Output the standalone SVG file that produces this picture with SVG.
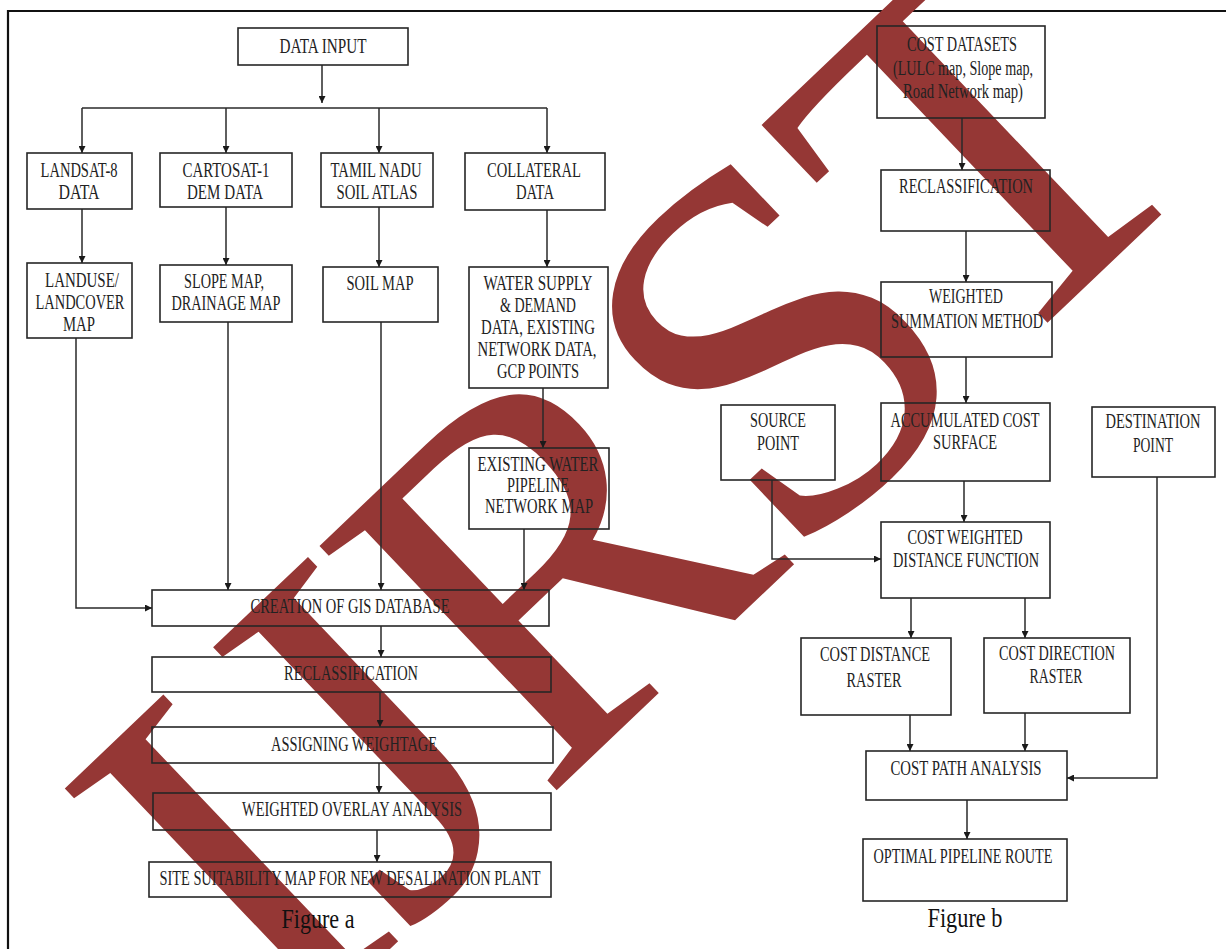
<svg xmlns="http://www.w3.org/2000/svg" width="1226" height="949" viewBox="0 0 1226 949">
<defs>
<style>
.bx{fill:none;stroke:#262626;stroke-width:1.6}
.t{font-family:"Liberation Serif","Times New Roman",serif;font-size:20px;fill:#222;text-anchor:middle}
.cap{font-family:"Liberation Serif","Times New Roman",serif;font-size:28px;fill:#111;text-anchor:middle}
.ln{fill:none;stroke:#2a2a2a;stroke-width:1.5}
.wm{font-family:"Liberation Serif","Times New Roman",serif;font-size:520px;letter-spacing:-10px;fill:#953735}
</style>
<marker id="ah" viewBox="0 0 10 10" refX="10" refY="5" markerWidth="7" markerHeight="7" markerUnits="userSpaceOnUse" orient="auto">
<path d="M0,0 L10,5 L0,10 z" fill="#1a1a1a"/>
</marker>
</defs>
<rect x="0" y="0" width="1226" height="949" fill="#ffffff"/>
<path d="M8,949 V11 H1226" fill="none" stroke="#111" stroke-width="2.2"/>

<g id="watermark">
<text class="wm" transform="translate(286,1048) rotate(-43.6)">IJRST</text>
</g>

<g id="connectors">
<path class="ln" d="M322,65 V103" marker-end="url(#ah)"/>
<path class="ln" d="M82,108 H547"/>
<path class="ln" d="M82,108 V153" marker-end="url(#ah)"/>
<path class="ln" d="M226,108 V153" marker-end="url(#ah)"/>
<path class="ln" d="M379,108 V153" marker-end="url(#ah)"/>
<path class="ln" d="M547,108 V153" marker-end="url(#ah)"/>
<path class="ln" d="M82,209 V263" marker-end="url(#ah)"/>
<path class="ln" d="M226,207 V265" marker-end="url(#ah)"/>
<path class="ln" d="M379,207 V267" marker-end="url(#ah)"/>
<path class="ln" d="M547,210 V267" marker-end="url(#ah)"/>
<path class="ln" d="M76,338 V608 H152" marker-end="url(#ah)"/>
<path class="ln" d="M228,322 V590" marker-end="url(#ah)"/>
<path class="ln" d="M381,322 V590" marker-end="url(#ah)"/>
<path class="ln" d="M543,388 V448" marker-end="url(#ah)"/>
<path class="ln" d="M524,529 V590" marker-end="url(#ah)"/>
<path class="ln" d="M381,626 V657" marker-end="url(#ah)"/>
<path class="ln" d="M380,692 V727" marker-end="url(#ah)"/>
<path class="ln" d="M379,763 V793" marker-end="url(#ah)"/>
<path class="ln" d="M377,830 V862" marker-end="url(#ah)"/>

<path class="ln" d="M962,118 V170" marker-end="url(#ah)"/>
<path class="ln" d="M966,231 V282" marker-end="url(#ah)"/>
<path class="ln" d="M966,357 V403" marker-end="url(#ah)"/>
<path class="ln" d="M964,481 V522" marker-end="url(#ah)"/>
<path class="ln" d="M772,480 V559 H881" marker-end="url(#ah)"/>
<path class="ln" d="M911,598 V638" marker-end="url(#ah)"/>
<path class="ln" d="M1025,598 V638" marker-end="url(#ah)"/>
<path class="ln" d="M910,715 V751" marker-end="url(#ah)"/>
<path class="ln" d="M1025,713 V751" marker-end="url(#ah)"/>
<path class="ln" d="M1157,477 V778 H1067" marker-end="url(#ah)"/>
<path class="ln" d="M967,800 V839" marker-end="url(#ah)"/>
</g>

<g id="n-data-input">
<rect class="bx" x="238" y="28" width="170" height="37"/>
<text class="t" x="323" y="53" textLength="87" lengthAdjust="spacingAndGlyphs">DATA INPUT</text>
</g>
<g id="n-landsat">
<rect class="bx" x="27" y="153" width="105" height="56"/>
<text class="t" x="79" y="177" textLength="77" lengthAdjust="spacingAndGlyphs">LANDSAT-8</text>
<text class="t" x="79" y="199" textLength="41" lengthAdjust="spacingAndGlyphs">DATA</text>
</g>
<g id="n-cartosat">
<rect class="bx" x="160" y="153" width="132" height="54"/>
<text class="t" x="226" y="177" textLength="87" lengthAdjust="spacingAndGlyphs">CARTOSAT-1</text>
<text class="t" x="225" y="199" textLength="76" lengthAdjust="spacingAndGlyphs">DEM DATA</text>
</g>
<g id="n-tamil">
<rect class="bx" x="321" y="153" width="112" height="54"/>
<text class="t" x="376" y="177" textLength="91" lengthAdjust="spacingAndGlyphs">TAMIL NADU</text>
<text class="t" x="377" y="199" textLength="81" lengthAdjust="spacingAndGlyphs">SOIL ATLAS</text>
</g>
<g id="n-collateral">
<rect class="bx" x="465" y="153" width="140" height="57"/>
<text class="t" x="534" y="177" textLength="94" lengthAdjust="spacingAndGlyphs">COLLATERAL</text>
<text class="t" x="535" y="199" textLength="38" lengthAdjust="spacingAndGlyphs">DATA</text>
</g>
<g id="n-landuse">
<rect class="bx" x="27" y="263" width="105" height="75"/>
<text class="t" x="82" y="287" textLength="74" lengthAdjust="spacingAndGlyphs">LANDUSE/</text>
<text class="t" x="80" y="309" textLength="89" lengthAdjust="spacingAndGlyphs">LANDCOVER</text>
<text class="t" x="79" y="331" textLength="32" lengthAdjust="spacingAndGlyphs">MAP</text>
</g>
<g id="n-slope">
<rect class="bx" x="160" y="265" width="132" height="57"/>
<text class="t" x="224" y="288" textLength="80" lengthAdjust="spacingAndGlyphs">SLOPE MAP,</text>
<text class="t" x="226" y="310" textLength="109" lengthAdjust="spacingAndGlyphs">DRAINAGE MAP</text>
</g>
<g id="n-soil">
<rect class="bx" x="323" y="267" width="115" height="55"/>
<text class="t" x="380" y="290" textLength="67" lengthAdjust="spacingAndGlyphs">SOIL MAP</text>
</g>
<g id="n-water">
<rect class="bx" x="469" y="267" width="139" height="121"/>
<text class="t" x="538" y="290" textLength="109" lengthAdjust="spacingAndGlyphs">WATER SUPPLY</text>
<text class="t" x="538" y="312" textLength="76" lengthAdjust="spacingAndGlyphs">&amp; DEMAND</text>
<text class="t" x="538" y="334" textLength="114" lengthAdjust="spacingAndGlyphs">DATA, EXISTING</text>
<text class="t" x="537" y="356" textLength="119" lengthAdjust="spacingAndGlyphs">NETWORK DATA,</text>
<text class="t" x="538" y="378" textLength="82" lengthAdjust="spacingAndGlyphs">GCP POINTS</text>
</g>
<g id="n-existing">
<rect class="bx" x="469" y="448" width="140" height="81"/>
<text class="t" x="538" y="471" textLength="121" lengthAdjust="spacingAndGlyphs">EXISTING WATER</text>
<text class="t" x="538" y="492" textLength="62" lengthAdjust="spacingAndGlyphs">PIPELINE</text>
<text class="t" x="539" y="513" textLength="108" lengthAdjust="spacingAndGlyphs">NETWORK MAP</text>
</g>
<g id="n-creation">
<rect class="bx" x="152" y="590" width="397" height="36"/>
<text class="t" x="350" y="613" textLength="199" lengthAdjust="spacingAndGlyphs">CREATION OF GIS DATABASE</text>
</g>
<g id="n-reclass-a">
<rect class="bx" x="152" y="657" width="399" height="35"/>
<text class="t" x="351" y="680" textLength="134" lengthAdjust="spacingAndGlyphs">RECLASSIFICATION</text>
</g>
<g id="n-assign">
<rect class="bx" x="152" y="727" width="401" height="36"/>
<text class="t" x="354" y="751" textLength="166" lengthAdjust="spacingAndGlyphs">ASSIGNING WEIGHTAGE</text>
</g>
<g id="n-overlay">
<rect class="bx" x="153" y="793" width="398" height="37"/>
<text class="t" x="352" y="816" textLength="220" lengthAdjust="spacingAndGlyphs">WEIGHTED OVERLAY ANALYSIS</text>
</g>
<g id="n-site">
<rect class="bx" x="149" y="862" width="402" height="35"/>
<text class="t" x="350" y="885" textLength="381" lengthAdjust="spacingAndGlyphs">SITE SUITABILITY MAP FOR NEW DESALINATION PLANT</text>
</g>
<text class="cap" x="318" y="928" textLength="73" lengthAdjust="spacingAndGlyphs">Figure a</text>

<g id="n-cost-datasets">
<rect class="bx" x="877" y="26" width="168" height="92"/>
<text class="t" x="962" y="51" textLength="110" lengthAdjust="spacingAndGlyphs">COST DATASETS</text>
<text class="t" x="963" y="75" textLength="140" lengthAdjust="spacingAndGlyphs">(LULC map, Slope map,</text>
<text class="t" x="963" y="98" textLength="120" lengthAdjust="spacingAndGlyphs">Road Network map)</text>
</g>
<g id="n-reclass-b">
<rect class="bx" x="881" y="170" width="169" height="61"/>
<text class="t" x="966" y="193" textLength="134" lengthAdjust="spacingAndGlyphs">RECLASSIFICATION</text>
</g>
<g id="n-weighted-sum">
<rect class="bx" x="881" y="282" width="171" height="75"/>
<text class="t" x="966" y="303" textLength="74" lengthAdjust="spacingAndGlyphs">WEIGHTED</text>
<text class="t" x="967" y="328" textLength="152" lengthAdjust="spacingAndGlyphs">SUMMATION METHOD</text>
</g>
<g id="n-source">
<rect class="bx" x="721" y="405" width="114" height="75"/>
<text class="t" x="778" y="427" textLength="56" lengthAdjust="spacingAndGlyphs">SOURCE</text>
<text class="t" x="778" y="450" textLength="42" lengthAdjust="spacingAndGlyphs">POINT</text>
</g>
<g id="n-accum">
<rect class="bx" x="881" y="403" width="169" height="78"/>
<text class="t" x="965" y="427" textLength="149" lengthAdjust="spacingAndGlyphs">ACCUMULATED COST</text>
<text class="t" x="965" y="449" textLength="64" lengthAdjust="spacingAndGlyphs">SURFACE</text>
</g>
<g id="n-destination">
<rect class="bx" x="1092" y="407" width="123" height="70"/>
<text class="t" x="1153" y="428" textLength="95" lengthAdjust="spacingAndGlyphs">DESTINATION</text>
<text class="t" x="1153" y="452" textLength="40" lengthAdjust="spacingAndGlyphs">POINT</text>
</g>
<g id="n-cwdf">
<rect class="bx" x="881" y="522" width="169" height="76"/>
<text class="t" x="965" y="544" textLength="115" lengthAdjust="spacingAndGlyphs">COST WEIGHTED</text>
<text class="t" x="966" y="567" textLength="146" lengthAdjust="spacingAndGlyphs">DISTANCE FUNCTION</text>
</g>
<g id="n-cost-distance">
<rect class="bx" x="801" y="638" width="150" height="77"/>
<text class="t" x="875" y="661" textLength="110" lengthAdjust="spacingAndGlyphs">COST DISTANCE</text>
<text class="t" x="874" y="687" textLength="55" lengthAdjust="spacingAndGlyphs">RASTER</text>
</g>
<g id="n-cost-direction">
<rect class="bx" x="984" y="638" width="146" height="75"/>
<text class="t" x="1057" y="660" textLength="116" lengthAdjust="spacingAndGlyphs">COST DIRECTION</text>
<text class="t" x="1056" y="683" textLength="53" lengthAdjust="spacingAndGlyphs">RASTER</text>
</g>
<g id="n-cost-path">
<rect class="bx" x="866" y="751" width="201" height="49"/>
<text class="t" x="966" y="775" textLength="151" lengthAdjust="spacingAndGlyphs">COST PATH ANALYSIS</text>
</g>
<g id="n-optimal">
<rect class="bx" x="863" y="839" width="204" height="62"/>
<text class="t" x="963" y="863" textLength="179" lengthAdjust="spacingAndGlyphs">OPTIMAL PIPELINE ROUTE</text>
</g>
<text class="cap" x="965" y="927" textLength="75" lengthAdjust="spacingAndGlyphs">Figure b</text>
</svg>
